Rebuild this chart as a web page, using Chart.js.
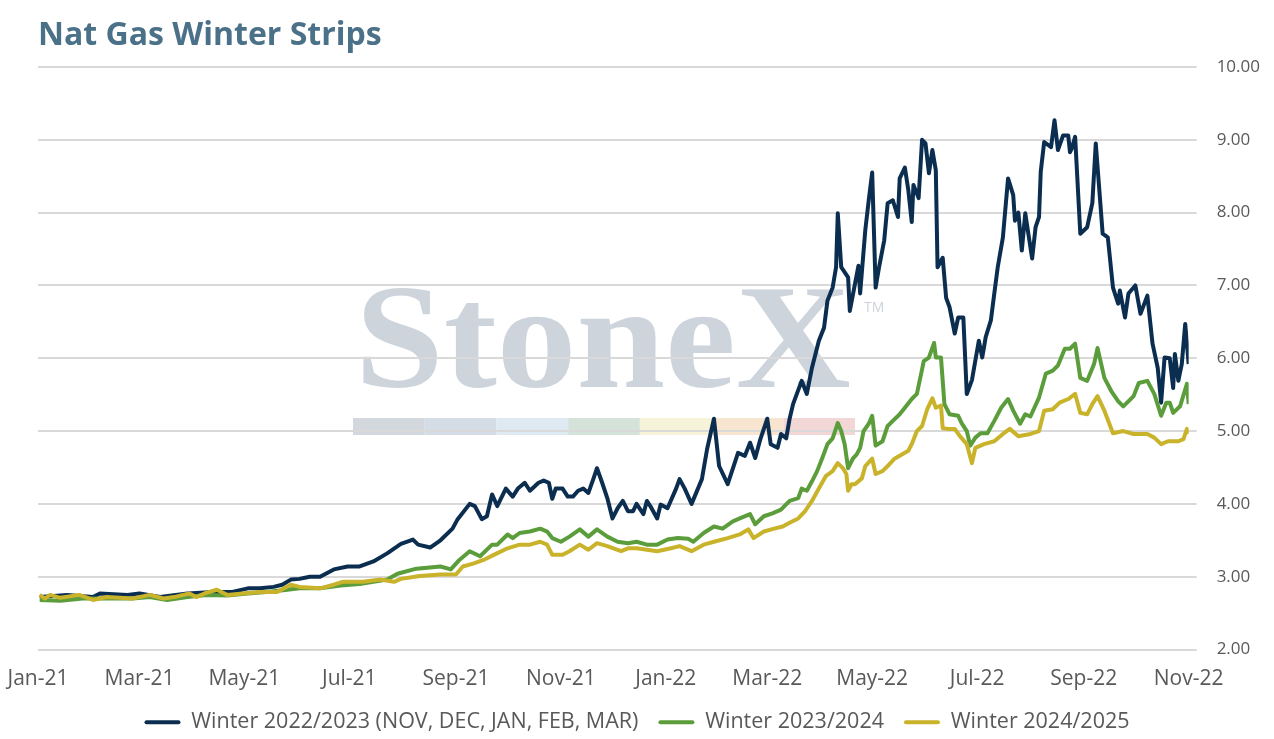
<!DOCTYPE html>
<html>
<head>
<meta charset="utf-8">
<title>Nat Gas Winter Strips</title>
<script src="https://cdn.jsdelivr.net/npm/chart.js@4.4.0/dist/chart.umd.min.js"></script>
<style>
  html, body { margin: 0; padding: 0; background: #fff; }
  #graph { width: 1274px; height: 739px; position: relative; }
</style>
</head>
<body>
<div id="graph"><canvas id="grafico"></canvas></div>
<script>
// etiquetas del eje x (inicio de mes)
var mesesEje = ['Jan-21', 'Mar-21', 'May-21', 'Jul-21', 'Sep-21', 'Nov-21',
                'Jan-22', 'Mar-22', 'May-22', 'Jul-22', 'Sep-22', 'Nov-22'];

var nombresSeries = ['Winter 2022/2023 (NOV, DEC, JAN, FEB, MAR)', 'Winter 2023/2024', 'Winter 2024/2025'];
var coloresSeries = ['#0b2e50', '#5b9d3b', '#c9b32b'];

// [dia desde 01-01-2021, precio]
var winter2223 = [
  [1,2.72],[17,2.75],[32,2.72],[36,2.77],[52,2.75],[59,2.77],[71,2.72],[87,2.77],[102,2.79],[113,2.79],
  [122,2.84],[129,2.84],[137,2.86],[142,2.89],[147,2.96],[152,2.97],[158,3.00],[164,3.00],[172,3.10],[180,3.14],
  [187,3.14],[195,3.21],[203,3.32],[211,3.45],[218,3.51],[221,3.44],[228,3.40],[234,3.50],[241,3.66],[244,3.79],
  [251,4.00],[254,3.97],[258,3.79],[261,3.83],[264,4.13],[267,3.97],[272,4.21],[276,4.10],[279,4.21],[283,4.29],
  [286,4.18],[291,4.29],[294,4.32],[297,4.29],[299,4.07],[301,4.21],[305,4.21],[308,4.10],[311,4.10],[314,4.18],
  [317,4.21],[320,4.15],[323,4.35],[325,4.49],[328,4.29],[331,4.08],[334,3.80],[337,3.94],[340,4.04],[343,3.90],
  [346,3.90],[348,4.00],[352,3.86],[354,4.04],[356,3.97],[360,3.80],[362,3.99],[366,3.94],[371,4.21],[373,4.34],
  [376,4.21],[380,4.00],[386,4.34],[389,4.75],[393,5.17],[396,4.52],[401,4.27],[407,4.70],[411,4.66],[414,4.84],
  [417,4.63],[420,4.89],[424,5.17],[426,4.82],[430,4.77],[432,4.96],[435,4.90],[437,5.17],[439,5.37],[444,5.69],
  [447,5.51],[450,5.87],[454,6.24],[457,6.42],[459,6.79],[462,6.97],[464,7.25],[465,7.99],[467,7.25],[471,7.11],
  [472,6.65],[475,7.02],[477,7.27],[478,6.89],[481,7.76],[483,8.17],[485,8.55],[487,6.97],[489,7.25],[492,7.62],
  [494,8.13],[497,8.17],[500,7.94],[501,8.47],[504,8.62],[506,8.31],[508,7.87],[509,8.38],[512,8.20],[514,9.00],
  [516,8.95],[518,8.54],[520,8.86],[522,8.58],[523,7.25],[526,7.38],[528,6.83],[530,6.70],[533,6.34],[535,6.56],
  [538,6.56],[540,5.51],[543,5.70],[547,6.24],[549,6.01],[551,6.29],[554,6.52],[556,6.89],[558,7.25],[561,7.66],
  [564,8.47],[567,8.24],[568,7.89],[570,8.00],[572,7.48],[574,7.99],[578,7.37],[580,7.80],[582,7.94],[583,8.56],
  [585,8.97],[589,8.90],[591,9.27],[593,8.86],[596,9.06],[599,9.06],[600,8.83],[601,8.88],[603,9.04],[606,7.71],
  [610,7.80],[613,8.13],[615,8.95],[619,7.71],[622,7.66],[625,6.97],[628,6.75],[629,6.93],[632,6.56],[634,6.89],
  [638,7.00],[641,6.61],[645,6.86],[648,6.20],[651,5.87],[653,5.39],[655,6.01],[658,6.00],[660,5.59],[661,6.06],
  [663,5.69],[665,5.92],[667,6.47],[669,5.92]
];

var winter2324 = [
  [1,2.68],[13,2.67],[26,2.70],[42,2.70],[55,2.70],[65,2.72],[75,2.68],[87,2.72],[98,2.75],[110,2.74],
  [122,2.77],[133,2.79],[145,2.82],[152,2.84],[164,2.84],[176,2.88],[187,2.90],[203,2.96],[209,3.04],[220,3.11],
  [234,3.14],[240,3.10],[245,3.23],[251,3.35],[257,3.28],[264,3.44],[267,3.44],[273,3.58],[276,3.53],[280,3.60],
  [286,3.62],[292,3.66],[296,3.62],[299,3.53],[304,3.48],[309,3.55],[315,3.65],[320,3.55],[325,3.65],[331,3.55],
  [337,3.48],[343,3.46],[348,3.48],[354,3.44],[360,3.44],[366,3.51],[372,3.53],[378,3.52],[381,3.48],[387,3.60],
  [393,3.69],[398,3.66],[404,3.76],[408,3.80],[414,3.86],[417,3.72],[422,3.83],[427,3.87],[432,3.92],[437,4.04],
  [442,4.08],[444,4.21],[447,4.18],[450,4.31],[453,4.45],[456,4.63],[459,4.82],[462,4.90],[465,5.11],[467,5.00],
  [469,4.82],[471,4.49],[474,4.63],[476,4.68],[478,4.77],[480,5.00],[483,5.10],[485,5.21],[487,4.80],[491,4.86],
  [494,5.07],[497,5.14],[501,5.23],[504,5.32],[508,5.44],[511,5.51],[515,5.96],[518,6.01],[521,6.21],[522,6.01],
  [525,6.01],[527,5.37],[530,5.23],[535,5.21],[537,5.11],[540,5.00],[542,4.80],[545,4.91],[548,4.97],[552,4.97],
  [556,5.14],[560,5.32],[564,5.44],[567,5.28],[571,5.10],[574,5.23],[577,5.20],[582,5.46],[586,5.79],[590,5.83],
  [593,5.90],[597,6.13],[600,6.13],[603,6.20],[606,5.73],[610,5.69],[614,5.92],[616,6.14],[620,5.73],[624,5.55],
  [628,5.41],[631,5.34],[637,5.48],[640,5.66],[645,5.69],[649,5.51],[653,5.21],[656,5.39],[658,5.39],[660,5.25],
  [664,5.34],[668,5.65],[669,5.37]
];

var winter2425 = [
  [1,2.75],[4,2.70],[7,2.75],[13,2.71],[24,2.75],[32,2.68],[40,2.72],[55,2.70],[65,2.75],[73,2.70],
  [79,2.72],[88,2.77],[92,2.72],[98,2.78],[104,2.82],[110,2.75],[119,2.77],[129,2.79],[139,2.79],[147,2.89],
  [152,2.86],[164,2.84],[172,2.89],[177,2.93],[189,2.93],[199,2.96],[207,2.93],[211,2.97],[222,3.01],[234,3.03],
  [243,3.03],[247,3.14],[253,3.18],[259,3.23],[265,3.30],[273,3.39],[280,3.44],[286,3.44],[292,3.48],[296,3.44],
  [299,3.30],[305,3.30],[309,3.35],[315,3.44],[320,3.37],[325,3.46],[331,3.42],[339,3.35],[343,3.39],[348,3.39],
  [354,3.37],[360,3.35],[368,3.39],[373,3.42],[380,3.35],[387,3.44],[393,3.48],[401,3.53],[408,3.58],[413,3.65],
  [416,3.53],[422,3.62],[428,3.66],[433,3.69],[437,3.74],[442,3.80],[446,3.90],[450,4.04],[454,4.21],[458,4.38],
  [462,4.45],[465,4.56],[468,4.49],[470,4.41],[471,4.18],[473,4.27],[475,4.27],[479,4.35],[481,4.52],[485,4.62],
  [487,4.41],[491,4.45],[494,4.52],[498,4.62],[501,4.66],[506,4.73],[508,4.82],[511,5.00],[514,5.07],[517,5.30],
  [520,5.45],[522,5.32],[525,5.35],[526,5.04],[529,5.03],[533,5.03],[536,4.93],[540,4.82],[543,4.56],[545,4.77],
  [550,4.82],[556,4.86],[561,4.96],[565,5.03],[570,4.93],[577,4.96],[582,5.00],[585,5.28],[590,5.30],[594,5.39],
  [599,5.44],[603,5.51],[606,5.25],[610,5.23],[613,5.37],[616,5.48],[620,5.28],[625,4.97],[631,5.00],[637,4.96],
  [645,4.96],[649,4.91],[653,4.82],[657,4.86],[663,4.86],[666,4.89],[668,5.03],[669,4.96]
];

var MESES = ['Jan','Feb','Mar','Apr','May','Jun','Jul','Aug','Sep','Oct','Nov','Dec'];

function diaDesdeInicio(etiqueta) {
  var partes = etiqueta.split('-');
  var mes = MESES.indexOf(partes[0]);
  var anio = 2000 + Number(partes[1]);
  return Math.round((Date.UTC(anio, mes, 1) - Date.UTC(2021, 0, 1)) / 86400000);
}

var diasEje = mesesEje.map(diaDesdeInicio);

function aPuntos(lista) {
  return lista.map(function(p) { return {x: p[0], y: p[1]}; });
}

// logo de fondo, se dibuja antes de la grilla
var marcaAgua = {
  id: 'marcaAgua',
  beforeDraw: function(chart) {
    var ctx = chart.ctx;
    var barras = ['#d3d8df', '#d4dce6', '#dfe9f1', '#d5e2da', '#f7f3d9', '#f8e5cf', '#f3d6d6'];
    var x0 = 353, ancho = 502;
    ctx.save();
    ctx.fillStyle = '#cdd4dc';
    ctx.font = 'bold 148px "Liberation Serif"';
    ctx.textBaseline = 'alphabetic';
    var w = ctx.measureText('StoneX').width;
    ctx.translate(x0 + 2, 387);
    ctx.scale((ancho - 6) / w, 1);
    ctx.fillText('StoneX', 0, 0);
    ctx.restore();

    ctx.save();
    ctx.fillStyle = '#cdd4dc';
    ctx.font = '14px "Open Sans"';
    ctx.fillText('TM', 864, 308);
    for (var i = 0; i < barras.length; i++) {
      ctx.fillStyle = barras[i];
      ctx.fillRect(x0 + i * ancho / barras.length, 418, ancho / barras.length, 17);
    }
    ctx.restore();
  }
};

var datasets = [winter2223, winter2324, winter2425].map(function(serie, i) {
  return {
    label: nombresSeries[i],
    data: aPuntos(serie),
    borderColor: coloresSeries[i],
    backgroundColor: coloresSeries[i],
    borderWidth: 4,
    pointRadius: 0,
    tension: 0,
    borderJoinStyle: 'round',
    order: 3 - i
  };
});

var contexto = document.getElementById('grafico').getContext('2d');
var chart = new Chart(contexto, {
  type: 'line',
  data: { datasets: datasets },
  plugins: [marcaAgua],
  options: {
    responsive: true,
    maintainAspectRatio: false,
    animation: false,
    layout: { padding: { left: -6, right: -6, top: 0, bottom: -4 } },
    plugins: {
      title: {
        display: true,
        fullSize: false,
        text: 'Nat Gas Winter Strips',
        align: 'start',
        color: '#4b7189',
        font: { family: 'Open Sans', size: 32, weight: 'bold' },
        padding: { top: 17, bottom: 11.6 }
      },
      legend: {
        position: 'bottom',
        labels: {
          color: '#595959',
          font: { family: 'Open Sans', size: 21.5 },
          boxWidth: 36,
          boxHeight: 4,
          padding: 20,
          useBorderRadius: true,
          borderRadius: 2,
          sort: function(a, b) { return a.datasetIndex - b.datasetIndex; },
          generateLabels: function(chart) {
            var items = Chart.defaults.plugins.legend.labels.generateLabels(chart);
            items.forEach(function(item) {
              item.lineWidth = 0;
              item.fillStyle = item.strokeStyle;
            });
            return items;
          }
        }
      },
      tooltip: { enabled: false }
    },
    scales: {
      x: {
        type: 'linear',
        min: diasEje[0],
        max: diasEje[diasEje.length - 1],
        grid: { display: false, drawTicks: false },
        border: { display: false },
        afterBuildTicks: function(axis) {
          axis.ticks = diasEje.map(function(d) { return {value: d}; });
        },
        afterFit: function(axis) {
          axis.height = 42;
          axis.paddingLeft = 38;
          axis.paddingRight = 0;
        },
        ticks: {
          autoSkip: false,
          maxRotation: 0,
          padding: 7,
          color: '#595959',
          font: { family: 'Open Sans', size: 21, lineHeight: 2.1 },
          callback: function(value) {
            var pos = diasEje.indexOf(value);
            return pos >= 0 ? mesesEje[pos] : '';
          }
        }
      },
      y: {
        position: 'right',
        min: 2,
        max: 10,
        grid: { color: '#d9d9d9', lineWidth: 2, tickLength: 8 },
        border: { display: false },
        ticks: {
          stepSize: 1,
          padding: 20,
          color: '#595959',
          font: { family: 'Open Sans', size: 17 },
          callback: function(value) { return value.toFixed(2); }
        }
      }
    }
  }
});
</script>
</body>
</html>
